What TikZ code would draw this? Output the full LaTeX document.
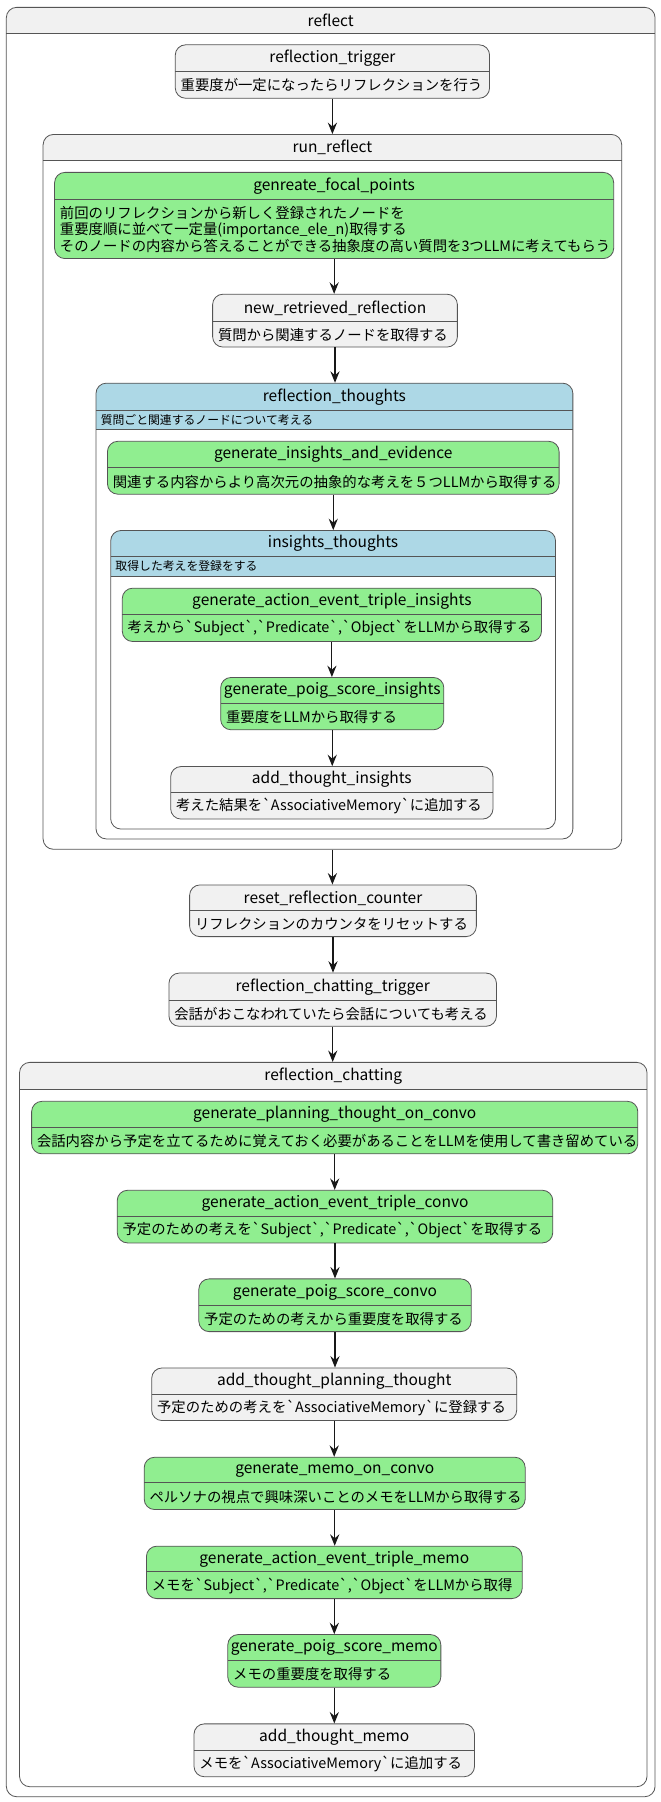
\documentclass[tikz,border=0pt]{standalone}
\usepackage{fontspec}
\setmainfont[Ligatures=TeXOff]{Noto Sans CJK JP}
\usetikzlibrary{arrows.meta}
\definecolor{stgray}{HTML}{F1F1F1}
\definecolor{stgreen}{HTML}{90EE90}
\definecolor{stblue}{HTML}{ADD8E6}
\definecolor{stline}{HTML}{555555}
\definecolor{arr}{HTML}{181818}
\tikzset{
  stbox/.style={draw=stline, line width=0.7pt, rounded corners=9pt, inner sep=0pt, rectangle},
  stsep/.style={draw=stline, line width=0.7pt},
  sttitle/.style={inner sep=0pt, font=\fontsize{13.5}{15}\selectfont},
  stdesc/.style={inner sep=0pt, anchor=west, align=left, font=\fontsize{12.5}{14.5}\selectfont},
  cpdesc/.style={inner sep=0pt, anchor=west, font=\fontsize{10.3}{12}\selectfont},
  flow/.style={draw=arr, line width=0.9pt, -{Stealth[length=10pt,width=8pt,inset=3.5pt]}}
}
% simple state: name, fill, x1, y1, x2, y2, ydiv, title, desc
\newcommand{\stnode}[9]{%
  \node[stbox, fill=#2, minimum width={(#5)-(#3)}, minimum height={(#6)-(#4)}] (#1) at ({((#3)+(#5))/2},{((#4)+(#6))/2}) {};
  \draw[stsep] (#3,#7) -- (#5,#7);
  \node[sttitle] (#1-t) at ({((#3)+(#5))/2},{((#4)+(#7))/2}) {#8};
  \node[stdesc] (#1-d) at ({(#3)+4.5},{((#7)+(#6))/2+0.5}) {#9};
}
% composite state: name, header fill, x1, y1, x2, y2, yhdr, title
\newcommand{\cpnode}[8]{%
  \begin{scope}
    \clip[rounded corners=9pt] (#3,#4) rectangle (#5,#6);
    \fill[#2] (#3,#4) rectangle (#5,#7);
  \end{scope}
  \node[stbox, minimum width={(#5)-(#3)}, minimum height={(#6)-(#4)}] (#1) at ({((#3)+(#5))/2},{((#4)+(#6))/2}) {};
  \draw[stsep] (#3,#7) -- (#5,#7);
  \node[sttitle] (#1-t) at ({((#3)+(#5))/2},{((#4)+(#7))/2}) {#8};
}
% composite with description: name, x1, y1, x2, y2, yhdr, ydescline, title, desc
\newcommand{\cpdnode}[9]{%
  \begin{scope}
    \clip[rounded corners=9pt] (#2,#3) rectangle (#4,#5);
    \fill[stblue] (#2,#3) rectangle (#4,#7);
  \end{scope}
  \node[stbox, minimum width={(#4)-(#2)}, minimum height={(#5)-(#3)}] (#1) at ({((#2)+(#4))/2},{((#3)+(#5))/2}) {};
  \draw[stsep] (#2,#6) -- (#4,#6);
  \draw[stsep] (#2,#7) -- (#4,#7);
  \node[sttitle] (#1-t) at ({((#2)+(#4))/2},{((#3)+(#6))/2}) {#8};
  \node[cpdesc] (#1-d) at ({(#2)+4},{((#6)+(#7))/2}) {#9};
}
\begin{document}
\begin{tikzpicture}[x=1pt,y=-1pt]
\useasboundingbox (0,0) rectangle (575,1568);
\fill[white] (0,0) rectangle (575,1568);

\cpnode{reflect}{stgray}{5.5}{6.4}{570}{1563.4}{29}{reflect}
\stnode{trig}{stgray}{152.5}{39}{426}{85.5}{62}{reflection\_trigger}{重要度が一定になったらリフレクションを行う}

\cpnode{run}{stgray}{37.5}{117}{541}{739}{140}{run\_reflect}
\stnode{focal}{stgreen}{47.5}{150}{534}{225}{173.4}{genreate\_focal\_points}{前回のリフレクションから新しく登録されたノードを\\重要度順に並べて一定量(importance\_ele\_n)取得する\\そのノードの内容から答えることができる抽象度の高い質問を3つLLMに考えてもらう}
\stnode{newret}{stgray}{185}{256}{398}{302}{280}{new\_retrieved\_reflection}{質問から関連するノードを取得する}

\cpdnode{rthought}{83.5}{333.4}{498.5}{730}{357}{373.5}{reflection\_thoughts}{質問ごと関連するノードについて考える}
\stnode{insev}{stgreen}{93.5}{384}{486.5}{430}{407}{generate\_insights\_and\_evidence}{関連する内容からより高次元の抽象的な考えを５つLLMから取得する}

\cpdnode{ithought}{96.3}{461.6}{483.4}{721.4}{484.2}{501.6}{insights\_thoughts}{取得した考えを登録をする}
\stnode{triins}{stgreen}{106.4}{511.8}{471.2}{558.2}{534.4}{generate\_action\_event\_triple\_insights}{考えから`Subject`,`Predicate`,`Object`をLLMから取得する}
\stnode{poigins}{stgreen}{192}{589.5}{386.2}{635}{611.8}{generate\_poig\_score\_insights}{重要度をLLMから取得する}
\stnode{addins}{stgray}{148.5}{667}{429}{712.7}{689.2}{add\_thought\_insights}{考えた結果を`AssociativeMemory`に追加する}

\stnode{reset}{stgray}{165}{770}{414.5}{815}{792.6}{reset\_reflection\_counter}{リフレクションのカウンタをリセットする}
\stnode{chtrig}{stgray}{147}{846.7}{432}{893}{870.5}{reflection\_chatting\_trigger}{会話がおこなわれていたら会話についても考える}

\cpnode{chat}{stgray}{17}{924.4}{563}{1554.7}{947.6}{reflection\_chatting}
\stnode{plan}{stgreen}{27.5}{958.3}{555}{1004}{980.6}{generate\_planning\_thought\_on\_convo}{会話内容から予定を立てるために覚えておく必要があることをLLMを使用して書き留めている}
\stnode{triconvo}{stgreen}{102}{1035.7}{481}{1081.5}{1058.3}{generate\_action\_event\_triple\_convo}{予定のための考えを`Subject`,`Predicate`,`Object`を取得する}
\stnode{poigconvo}{stgreen}{173}{1112.8}{410}{1158.7}{1135.5}{generate\_poig\_score\_convo}{予定のための考えから重要度を取得する}
\stnode{addplan}{stgray}{132}{1190.3}{449.6}{1236.1}{1213}{add\_thought\_planning\_thought}{予定のための考えを`AssociativeMemory`に登録する}
\stnode{memo}{stgreen}{125.5}{1268}{457}{1313.5}{1290.3}{generate\_memo\_on\_convo}{ペルソナの視点で興味深いことのメモをLLMから取得する}
\stnode{trimemo}{stgreen}{127.4}{1345.4}{454.4}{1391}{1367.7}{generate\_action\_event\_triple\_memo}{メモを`Subject`,`Predicate`,`Object`をLLMから取得}
\stnode{poigmemo}{stgreen}{198.2}{1422.3}{383.6}{1468.1}{1445}{generate\_poig\_score\_memo}{メモの重要度を取得する}
\stnode{addmemo}{stgray}{168.8}{1500}{412.9}{1546}{1522.8}{add\_thought\_memo}{メモを`AssociativeMemory`に追加する}

\foreach \a/\b in {trig/run, focal/newret, newret/rthought, insev/ithought, triins/poigins, poigins/addins, run/reset, reset/chtrig, chtrig/chat, plan/triconvo, triconvo/poigconvo, poigconvo/addplan, addplan/memo, memo/trimemo, trimemo/poigmemo, poigmemo/addmemo}
  \draw[flow] (\a.south) -- (\a.south |- \b.north);
\end{tikzpicture}
\end{document}
